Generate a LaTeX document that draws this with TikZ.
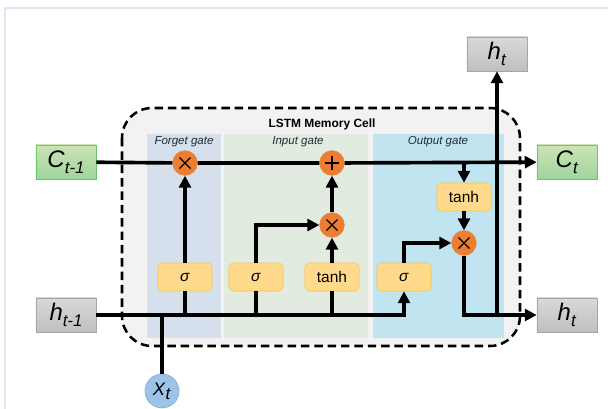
\documentclass[tikz,border=0pt]{standalone}
\usepackage{fontspec}
\setmainfont{Liberation Sans}
\usetikzlibrary{arrows.meta, positioning, calc}

\definecolor{cellgray}{HTML}{F2F2F2}
\definecolor{forgetbg}{HTML}{D6E0EC}
\definecolor{inputbg}{HTML}{E2EBDF}
\definecolor{outputbg}{HTML}{C1E4F1}
\definecolor{opfill}{HTML}{ED7D31}
\definecolor{opedge}{HTML}{E58A4A}
\definecolor{gatefill}{HTML}{FFDA8D}
\definecolor{gateedge}{HTML}{F5C448}
\definecolor{framec}{HTML}{DCE9F5}
\definecolor{labelc}{HTML}{1F2A38}
\definecolor{xfill}{HTML}{9DC3E6}
\definecolor{xedge}{HTML}{7FA8D8}

\newcommand{\io}[2]{\textit{#1}\raisebox{-0.45ex}{\fontsize{12}{12}\selectfont\textit{#2}}}

\begin{document}
\begin{tikzpicture}[
    x=0.025cm, y=-0.025cm,
    >=Triangle,
    flow/.style={line width=2.6pt, arrows={-Triangle[length=8.5pt, width=8.5pt]}},
    line/.style={line width=2.6pt},
    gatebox/.style={draw=gateedge, fill=gatefill, rounded corners=3pt,
                    minimum width=1.35cm, minimum height=0.7cm,
                    font=\fontsize{11}{11}\selectfont},
    opnode/.style={circle, draw=opedge, fill=opfill, minimum size=0.62cm,
                   inner sep=0pt},
    mulop/.style={opnode, path picture={
        \draw[black, line width=1pt]
          ([shift={(-5.5,-5.5)}]path picture bounding box.center) --
          ([shift={(5.5,5.5)}]path picture bounding box.center)
          ([shift={(-5.5,5.5)}]path picture bounding box.center) --
          ([shift={(5.5,-5.5)}]path picture bounding box.center);}},
    addop/.style={opnode, path picture={
        \draw[black, line width=1pt]
          ([shift={(-7,0)}]path picture bounding box.center) --
          ([shift={(7,0)}]path picture bounding box.center)
          ([shift={(0,-7)}]path picture bounding box.center) --
          ([shift={(0,7)}]path picture bounding box.center);}},
    cbox/.style={draw=green!45!gray!80, top color=green!30!lime!45!gray!40,
                 bottom color=green!40!gray!55, minimum width=1.5cm,
                 minimum height=0.85cm, font=\fontsize{17}{18}\selectfont},
    hbox/.style={draw=gray!70, top color=gray!30, bottom color=gray!50,
                 minimum width=1.5cm, minimum height=0.85cm,
                 font=\fontsize{17}{18}\selectfont},
    gatelabel/.style={font=\fontsize{8.2}{8.5}\selectfont\itshape, text=labelc,
                      inner sep=0.5pt}
  ]
  \useasboundingbox (0,0) rectangle (608,409);
  \draw[framec, line width=0.8pt] (5,420) |- (620,8);

  % Memory cell and the three gate panels
  \draw[line width=1.8pt, dash pattern=on 6pt off 3.5pt, fill=cellgray,
        rounded corners=0.75cm] (122,108) rectangle (520,346);
  \fill[forgetbg] (147,134) rectangle (221,338);
  \fill[inputbg] (224,134) rectangle (368,338);
  \fill[outputbg] (373,134) rectangle (504,338);
  \node[font=\fontsize{8.5}{9}\selectfont\bfseries] (title) at (322,124) {LSTM Memory Cell};
  \node[gatelabel] (flabel) at (184,142) {Forget gate};
  \node[gatelabel] (ilabel) at (298,142) {Input gate};
  \node[gatelabel] (olabel) at (438,142) {Output gate};

  % Inputs and outputs
  \node[cbox] (cprev) at (66,162) {\io{C}{t-1}};
  \node[cbox] (cnext) at (567,162) {\io{C}{t}};
  \node[hbox] (hprev) at (66,315) {\io{h}{t-1}};
  \node[hbox] (hnext) at (567,315) {\io{h}{t}};
  \node[hbox] (hup) at (497,54) {\io{h}{t}};
  \node[circle, draw=xedge, fill=xfill, minimum size=0.85cm, inner sep=0pt,
        font=\fontsize{13}{14}\selectfont] (xt) at (162,391) {\io{X}{t}};

  % Gates
  \node[gatebox] (fsig) at (185,277) {\textit{σ}};
  \node[gatebox] (isig) at (256,277) {\textit{σ}};
  \node[gatebox] (itanh) at (332,277) {tanh};
  \node[gatebox] (osig) at (404,277) {\textit{σ}};
  \node[gatebox] (otanh) at (464,197) {tanh};

  % Pointwise operations
  \node[mulop] (fmul) at (185,163) {};
  \node[addop] (iadd) at (332,163) {};
  \node[mulop] (imul) at (332,225) {};
  \node[mulop] (omul) at (464,243) {};

  \coordinate (ctap) at (otanh |- cprev);
  \coordinate (hsplit) at (hup |- hnext);

  % Cell state
  \draw[line] (cprev) -- (fmul) (fmul) -- (iadd);
  \draw[flow] (iadd) -- (cnext);

  % Hidden state and input
  \draw[flow] (hprev) -| (osig);
  \draw[line] (xt) -- (xt |- hprev);
  \foreach \g in {fsig, isig, itanh}
    \draw[line] (\g) -- (\g |- hprev);

  \draw[flow] (fsig) -- (fmul);
  \draw[flow] (isig) |- (imul);
  \draw[flow] (itanh) -- (imul);
  \draw[flow] (imul) -- (iadd);
  \draw[flow] (ctap) -- (otanh);
  \draw[flow] (otanh) -- (omul);
  \draw[flow] (osig) |- (omul);
  \draw[flow] (omul) |- (hnext);
  \draw[flow] (hsplit) -- (hup);
\end{tikzpicture}
\end{document}
